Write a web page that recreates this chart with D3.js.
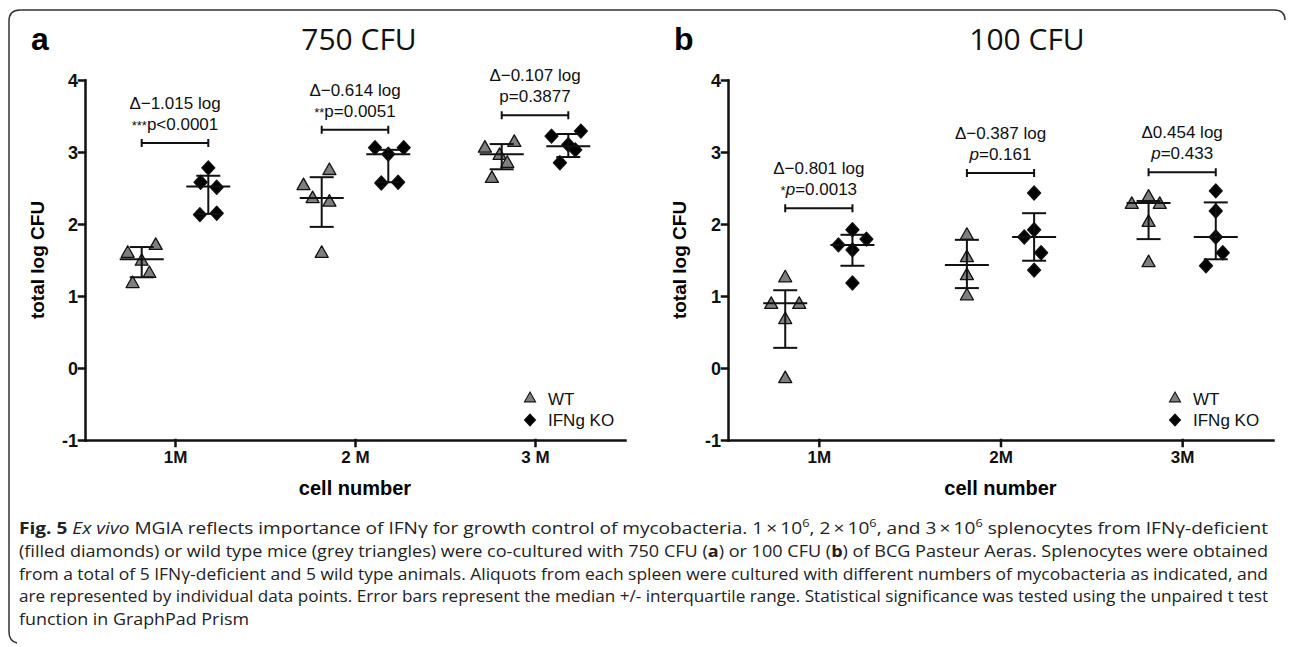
<!DOCTYPE html>
<html>
<head>
<meta charset="utf-8">
<script src="https://cdn.jsdelivr.net/npm/d3@7"></script>
<style>
  body { margin: 0; background: #fff; }
  svg { display: block; }
  .axis path, .axis line { stroke: #111; stroke-width: 2.5; stroke-linecap: square; }
  .axis text { font-family: 'Liberation Sans', Arial, sans-serif; font-weight: bold; fill: #111; }
</style>
</head>
<body>
<svg width="1290" height="647"></svg>
<script>
const categories = [1, 2, 3];
const tickLabelsA = ['1M', '2 M', '3 M'];
const tickLabelsB = ['1M', '2M', '3M'];
const yTicks = [-1, 0, 1, 2, 3, 4];
const groups = ['WT', 'IFNg KO'];

// panel a, 750 CFU: total log CFU, one row per cell number
const wtA = [[1.60, 1.71, 1.49, 1.32, 1.18], [2.54, 2.36, 2.75, 2.31, 1.60], [3.06, 3.14, 2.96, 2.85, 2.64]];
const koA = [[2.78, 2.58, 2.51, 2.13, 2.15], [3.06, 2.97, 3.06, 2.57, 2.58], [3.22, 3.29, 3.10, 3.03, 2.85]];
const wtMedA = [1.51, 2.36, 2.97], wtQ1A = [1.26, 1.96, 2.76], wtQ3A = [1.68, 2.65, 3.11];
const koMedA = [2.52, 2.97, 3.08], koQ1A = [2.14, 2.58, 2.93], koQ3A = [2.67, 3.03, 3.25];
const deltaA = ['\u0394\u22121.015 log', '\u0394\u22120.614 log', '\u0394\u22120.107 log'];
const starsA = ['***', '**', ''];
const pA = ['p<0.0001', 'p=0.0051', 'p=0.3877'];
const bracketA = [3.125, 3.31, 3.51];

// panel b, 100 CFU
const wtB = [[0.89, 0.89, 1.26, 0.68, -0.14], [1.85, 1.54, 1.29, 1.01], [2.28, 2.38, 2.28, 2.03, 1.47]];
const koB = [[1.71, 1.64, 1.79, 1.18, 1.92], [2.43, 1.92, 1.82, 1.60, 1.36], [2.46, 2.18, 1.82, 1.60, 1.42]];
const wtMedB = [0.90, 1.43, 2.29], wtQ1B = [0.28, 1.11, 1.79], wtQ3B = [1.08, 1.78, 2.32];
const koMedB = [1.71, 1.82, 1.82], koQ1B = [1.42, 1.49, 1.51], koQ3B = [1.85, 2.15, 2.30];
const deltaB = ['\u0394\u22120.801 log', '\u0394\u22120.387 log', '\u03940.454 log'];
const starsB = ['*', '', ''];
const pB = ['=0.0013', '=0.161', '=0.433'];
const bracketB = [2.22, 2.71, 2.72];

// horizontal scatter of points (in marker widths), like the prism column scatter
const wtJitterA = [[-1, 1, 0, 0.55, -0.65], [-1.3, -0.65, 0.55, 0.55, 0], [-1.2, 0.9, -0.15, 0.4, -0.7]];
const koJitterA = [[0, -0.55, 0.6, -0.6, 0.6], [-0.95, 0, 1.1, -0.5, 0.7], [-1.2, 0.9, 0, 0.5, -0.6]];
const wtJitterB = [[-1, 1, 0, 0, 0], [0, 0, 0, 0], [-1.2, 0, 0.8, 0, 0]];
const koJitterB = [[-1, 0, 1, 0, 0], [0, 0, -0.7, 0.5, 0], [0, 0, 0, 0.5, -0.7]];

const svg = d3.select('svg');
const sans = "'Liberation Sans', Arial, sans-serif";
const triPath = 'M0,-7L6.5,4.5L-6.5,4.5Z';
const diaPath = 'M0,-7L6.5,0L0,7L-6.5,0Z';
const groupOff = 0.185;
const jitterPx = 14;

// rounded frame round the figure
svg.append('path')
  .attr('d', 'M17,643Q9,641 9,632L9,21Q9,10 20,10L1274,10Q1285,10 1285,20')
  .attr('fill', 'none')
  .attr('stroke', '#333')
  .attr('stroke-width', 1.5);

function drawPanel(p) {
  const x = d3.scaleLinear().domain([0.5, 3.5]).range([p.left, p.right]);
  const y = d3.scaleLinear().domain([-1, 4]).range([440, 80]);
  const g = svg.append('g');

  g.append('text')
    .attr('x', p.letterX).attr('y', 50)
    .attr('font-family', sans).attr('font-weight', 'bold').attr('font-size', 32)
    .text(p.letter);
  g.append('text')
    .attr('x', p.titleX).attr('y', 50)
    .attr('text-anchor', 'middle')
    .attr('font-family', "'Open Sans', sans-serif").attr('font-size', 30)
    .attr('fill', '#111')
    .text(p.title);

  const xAxisG = g.append('g').attr('class', 'axis')
    .attr('transform', 'translate(0,440)')
    .call(d3.axisBottom(x).tickValues(categories)
      .tickFormat((d, i) => p.tickLabels[i])
      .tickSize(6).tickSizeOuter(0).tickPadding(5));
  xAxisG.selectAll('text').attr('font-size', 17);

  const yAxisG = g.append('g').attr('class', 'axis')
    .attr('transform', `translate(${p.left},0)`)
    .call(d3.axisLeft(y).tickValues(yTicks).tickFormat(d => String(d))
      .tickSize(6).tickSizeOuter(0).tickPadding(1));
  yAxisG.selectAll('text').attr('font-size', 18).attr('dy', '0.36em');

  g.append('text')
    .attr('transform', `translate(${p.yLabelX},260) rotate(-90)`)
    .attr('text-anchor', 'middle')
    .attr('font-family', sans).attr('font-weight', 'bold').attr('font-size', 19)
    .text('total log CFU');
  g.append('text')
    .attr('x', x(2)).attr('y', 495)
    .attr('text-anchor', 'middle')
    .attr('font-family', sans).attr('font-weight', 'bold').attr('font-size', 20)
    .text('cell number');

  const sets = [
    { vals: p.wt, jit: p.wtJit, med: p.wtMed, q1: p.wtQ1, q3: p.wtQ3, off: -groupOff, shape: triPath, fill: '#7f7f7f' },
    { vals: p.ko, jit: p.koJit, med: p.koMed, q1: p.koQ1, q3: p.koQ3, off: groupOff, shape: diaPath, fill: '#000' }
  ];

  sets.forEach(s => {
    const pts = [];
    s.vals.forEach((row, i) => row.forEach((v, j) => pts.push({ cat: categories[i], v: v, j: s.jit[i][j] })));
    g.append('g').selectAll('path')
      .data(pts)
      .join('path')
        .attr('d', s.shape)
        .attr('transform', d => `translate(${x(d.cat + s.off) + d.j * jitterPx},${y(d.v)})`)
        .attr('fill', s.fill)
        .attr('stroke', '#111')
        .attr('stroke-width', 1.3)
        .attr('stroke-linejoin', 'round');

    // median +/- interquartile range
    const eb = g.append('g').attr('stroke', '#111').attr('stroke-width', 2);
    categories.forEach((c, i) => {
      const cx = x(c + s.off);
      eb.append('line').attr('x1', cx).attr('x2', cx).attr('y1', y(s.q1[i])).attr('y2', y(s.q3[i]));
      eb.append('line').attr('x1', cx - 22).attr('x2', cx + 22).attr('y1', y(s.med[i])).attr('y2', y(s.med[i]));
      eb.append('line').attr('x1', cx - 12).attr('x2', cx + 12).attr('y1', y(s.q1[i])).attr('y2', y(s.q1[i]));
      eb.append('line').attr('x1', cx - 12).attr('x2', cx + 12).attr('y1', y(s.q3[i])).attr('y2', y(s.q3[i]));
    });
  });

  // comparison brackets and their labels
  categories.forEach((c, i) => {
    const by = y(p.bracket[i]);
    const x0 = x(c - groupOff), x1 = x(c + groupOff);
    g.append('path')
      .attr('d', `M${x0},${by - 4}V${by + 4}M${x0},${by}H${x1}M${x1},${by - 4}V${by + 4}`)
      .attr('fill', 'none').attr('stroke', '#111').attr('stroke-width', 2);
    g.append('text')
      .attr('x', x(c)).attr('y', by - 34)
      .attr('text-anchor', 'middle')
      .attr('font-family', sans).attr('font-size', 17).attr('fill', '#111')
      .text(p.delta[i]);
    const pt = g.append('text')
      .attr('x', x(c)).attr('y', by - 13)
      .attr('text-anchor', 'middle')
      .attr('font-family', sans).attr('font-size', 17).attr('fill', '#111');
    if (p.stars[i]) pt.append('tspan').attr('font-size', 13).text(p.stars[i]);
    if (p.italicP) {
      pt.append('tspan').attr('font-style', 'italic').text('p');
      pt.append('tspan').text(p.p[i]);
    } else {
      pt.append('tspan').text(p.p[i]);
    }
  });

  // legend
  const lg = g.append('g').attr('font-family', sans).attr('font-size', 17).attr('fill', '#111');
  [[triPath, '#7f7f7f'], [diaPath, '#000']].forEach((m, i) => {
    lg.append('path').attr('d', m[0])
      .attr('transform', `translate(${p.legendX},${398 + i * 22}) scale(0.85)`)
      .attr('fill', m[1]).attr('stroke', '#111').attr('stroke-width', 1.3);
    lg.append('text').attr('x', p.legendX + 18).attr('y', 405 + i * 21).text(groups[i]);
  });
}

drawPanel({
  left: 85, right: 625, letter: 'a', letterX: 31, title: '750 CFU', titleX: 359, yLabelX: 44,
  tickLabels: tickLabelsA, wt: wtA, ko: koA, wtJit: wtJitterA, koJit: koJitterA,
  wtMed: wtMedA, wtQ1: wtQ1A, wtQ3: wtQ3A, koMed: koMedA, koQ1: koQ1A, koQ3: koQ3A,
  delta: deltaA, stars: starsA, p: pA, italicP: false, bracket: bracketA, legendX: 530
});
drawPanel({
  left: 728, right: 1273, letter: 'b', letterX: 674, title: '100 CFU', titleX: 1027, yLabelX: 686,
  tickLabels: tickLabelsB, wt: wtB, ko: koB, wtJit: wtJitterB, koJit: koJitterB,
  wtMed: wtMedB, wtQ1: wtQ1B, wtQ3: wtQ3B, koMed: koMedB, koQ1: koQ1B, koQ3: koQ3B,
  delta: deltaB, stars: starsB, p: pB, italicP: true, bracket: bracketB, legendX: 1175
});

// figure caption, justified lines
const captionLines = [
  [['b', 'Fig. 5 '], ['i', 'Ex vivo'], ['', ' MGIA reflects importance of IFN\u03b3 for growth control of mycobacteria. 1\u2009\u00d7\u200910'], ['s', '6'],
   ['', ', 2\u2009\u00d7\u200910'], ['s', '6'], ['', ', and 3\u2009\u00d7\u200910'], ['s', '6'], ['', ' splenocytes from IFN\u03b3-deficient']],
  [['', '(filled diamonds) or wild type mice (grey triangles) were co-cultured with 750 CFU ('], ['b', 'a'], ['', ') or 100 CFU ('], ['b', 'b'],
   ['', ') of BCG Pasteur Aeras. Splenocytes were obtained']],
  [['', 'from a total of 5 IFN\u03b3-deficient and 5 wild type animals. Aliquots from each spleen were cultured with different numbers of mycobacteria as indicated, and']],
  [['', 'are represented by individual data points. Error bars represent the median +/- interquartile range. Statistical significance was tested using the unpaired t test']],
  [['', 'function in GraphPad Prism']]
];

const cap = svg.append('g')
  .attr('font-family', "'Open Sans', sans-serif")
  .attr('font-size', 16.5)
  .attr('fill', '#222');
captionLines.forEach((line, li) => {
  const t = cap.append('text').attr('x', 19).attr('y', 534 + li * 22.8);
  if (li < captionLines.length - 1) {
    t.attr('textLength', 1249).attr('lengthAdjust', 'spacingAndGlyphs');
  }
  let raised = false;
  line.forEach(([kind, str]) => {
    const ts = t.append('tspan').text(str);
    if (kind === 'b') ts.attr('font-weight', 'bold');
    if (kind === 'i') ts.attr('font-style', 'italic');
    if (kind === 's') { ts.attr('font-size', 11).attr('dy', -7.5); raised = true; }
    else if (raised) { ts.attr('dy', 7.5); raised = false; }
  });
  if (li === captionLines.length - 1) {
    t.attr('textLength', 230).attr('lengthAdjust', 'spacingAndGlyphs');
  }
});
</script>
</body>
</html>
